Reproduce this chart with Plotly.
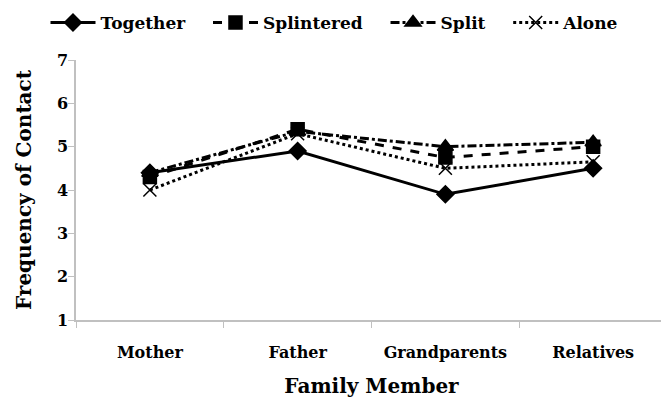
import plotly.graph_objects as go

# data
members = ['Mother', 'Father', 'Grandparents', 'Relatives']
together = [4.4, 4.9, 3.9, 4.5]
splintered = [4.3, 5.4, 4.75, 5.0]
split = [4.4, 5.35, 5.0, 5.1]
alone = [4.0, 5.3, 4.5, 4.65]

FONT = 'DejaVu Serif'
PAD = '\u00a0' * 3  # extra room between legend entries

series = [
    ('Together', together, 'solid', 'diamond', 13),
    ('Splintered', splintered, 'dash', 'square', 13),
    ('Split', split, 'dashdot', 'triangle-up', 14),
    ('Alone', alone, 'dot', 'x-thin-open', 13),
]

fig = go.Figure()
for i, (name, vals, dash, sym, size) in enumerate(series):
    label = name + (PAD if i < len(series) - 1 else '')
    fig.add_trace(go.Scatter(
        x=members, y=vals, name=label, mode='lines+markers',
        line=dict(color='black', width=3, dash=dash),
        marker=dict(symbol=sym, size=size, color='black',
                    line=dict(color='black', width=1.5))))

# page body has an 8px margin, so the figure is a bit smaller than the window
W, H = 661, 393
fig.update_layout(
    width=W, height=H,
    margin=dict(l=68, r=2, t=52, b=81),
    paper_bgcolor='white', plot_bgcolor='white',
    font=dict(family=FONT, color='black', size=15),
    legend=dict(orientation='h', xref='container', x=327 / W, xanchor='center',
                yref='container', y=1 - 15 / H, yanchor='middle',
                font=dict(family=FONT, size=17, weight='bold'),
                itemwidth=45, tracegroupgap=0),
)
fig.update_xaxes(
    type='category', range=[-0.5, 3.5], tickson='boundaries',
    automargin=False,
    showline=True, linecolor='#c0c0c0', linewidth=1.5,
    ticks='outside', ticklen=6, tickcolor='#c0c0c0',
    ticklabelstandoff=17,
    showgrid=False,
    tickfont=dict(family=FONT, size=16, weight='bold'),
    title=dict(text='Family Member', font=dict(family=FONT, size=20, weight='bold'),
               standoff=18),
)
fig.update_yaxes(
    range=[1, 7], dtick=1, automargin=False,
    showline=True, linecolor='#c0c0c0', linewidth=1.5,
    ticks='outside', ticklen=6, tickcolor='#c0c0c0',
    ticklabelstandoff=-3,
    showgrid=False, zeroline=False,
    tickfont=dict(family=FONT, size=16, weight='bold'),
    title=dict(text='Frequency of Contact', font=dict(family=FONT, size=20, weight='bold'),
               standoff=20),
)

fig.write_html('out.html')
